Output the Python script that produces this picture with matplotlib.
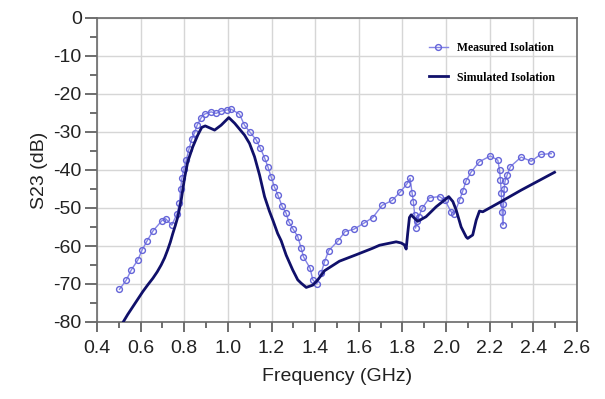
import matplotlib.pyplot as plt
from matplotlib.ticker import MultipleLocator

# measured isolation (GHz, dB)
meas_f = [0.503, 0.534, 0.557, 0.587, 0.607, 0.630, 0.657, 0.698, 0.714, 0.743,
          0.767, 0.778, 0.783, 0.789, 0.798, 0.809, 0.821, 0.834, 0.847, 0.859,
          0.878, 0.893, 0.923, 0.946, 0.969, 0.995, 1.015, 1.053, 1.076, 1.099,
          1.130, 1.149, 1.168, 1.183, 1.198, 1.213, 1.229, 1.249, 1.267, 1.279,
          1.297, 1.320, 1.336, 1.346, 1.377, 1.389, 1.407, 1.427, 1.443, 1.462,
          1.504, 1.537, 1.577, 1.626, 1.664, 1.707, 1.753, 1.791, 1.820, 1.835,
          1.844, 1.850, 1.856, 1.860, 1.866, 1.875, 1.890, 1.924, 1.970, 1.995,
          2.023, 2.038, 2.062, 2.077, 2.092, 2.115, 2.153, 2.203, 2.237, 2.245,
          2.249, 2.253, 2.257, 2.260, 2.263, 2.266, 2.270, 2.280, 2.295, 2.344,
          2.390, 2.433, 2.482]
meas_db = [-71.4, -69.0, -66.3, -63.7, -61.0, -58.6, -56.0, -53.3, -52.8, -54.5,
           -51.5, -48.6, -45.0, -42.2, -39.8, -37.4, -34.6, -31.9, -30.2, -28.2,
           -26.2, -25.3, -24.7, -25.1, -24.5, -24.2, -24.0, -25.3, -28.2, -29.9,
           -32.1, -34.3, -36.8, -39.1, -41.8, -44.4, -46.6, -49.6, -51.4, -53.6,
           -55.4, -57.5, -60.6, -62.8, -65.9, -68.9, -70.0, -67.2, -64.1, -61.2,
           -58.7, -56.2, -55.6, -53.9, -52.5, -49.3, -48.0, -45.7, -43.7, -42.2,
           -46.0, -48.3, -51.8, -55.3, -53.5, -52.3, -50.1, -47.3, -47.0, -48.0,
           -51.0, -51.5, -47.9, -45.4, -42.8, -40.5, -37.8, -36.3, -37.4, -40.0,
           -42.5, -46.0, -51.0, -54.5, -49.0, -45.0, -43.0, -41.3, -39.1, -36.6,
           -37.7, -35.9, -35.7]

# simulated isolation (GHz, dB)
sim_f = [0.518, 0.541, 0.564, 0.587, 0.610, 0.633, 0.656, 0.676, 0.694, 0.710,
         0.724, 0.736, 0.747, 0.759, 0.770, 0.786, 0.801, 0.816, 0.839, 0.862,
         0.880, 0.896, 0.912, 0.939, 0.969, 1.004, 1.031, 1.076, 1.099, 1.122,
         1.145, 1.168, 1.190, 1.206, 1.228, 1.244, 1.267, 1.297, 1.320, 1.336,
         1.359, 1.389, 1.412, 1.443, 1.511, 1.588, 1.663, 1.695, 1.771, 1.794,
         1.809, 1.817, 1.824, 1.832, 1.840, 1.855, 1.870, 1.908, 1.954, 1.993,
         2.012, 2.031, 2.046, 2.069, 2.092, 2.099, 2.122, 2.138, 2.153, 2.168,
         2.237, 2.344, 2.497]
sim_db = [-80.2, -78.0, -76.0, -74.0, -72.0, -70.2, -68.5, -66.8, -65.0, -63.1,
          -61.0, -59.0, -56.8, -54.6, -52.4, -47.9, -42.2, -37.8, -33.9, -30.8,
          -28.8, -28.4, -28.8, -29.5, -28.2, -26.2, -27.7, -30.8, -33.0, -36.5,
          -41.3, -47.0, -50.8, -53.2, -56.7, -58.6, -62.4, -66.3, -68.9, -69.8,
          -70.9, -70.3, -68.9, -66.5, -64.0, -62.3, -60.6, -59.8, -58.9, -59.2,
          -59.7, -60.8, -56.7, -52.5, -51.8, -52.7, -53.5, -52.3, -49.7, -47.9,
          -47.0, -48.3, -50.5, -55.0, -57.6, -58.0, -57.1, -53.2, -50.8, -51.0,
          -48.8, -45.3, -40.6]

plt.rcParams['font.family'] = ['Liberation Sans', 'DejaVu Sans']
plt.rcParams['axes.unicode_minus'] = False

fig = plt.figure(figsize=(6.05, 3.99), dpi=100)
ax = fig.add_axes([97 / 605, 1 - 322 / 399, 480 / 605, 304 / 399])

ax.plot(meas_f, meas_db, color='#8484e6', lw=1.0, marker='o', ms=4.2,
        mfc='none', mec='#6464d8', mew=1.0, label='Measured Isolation', zorder=3)
ax.plot(sim_f, sim_db, color='#10106a', lw=2.0, label='Simulated Isolation',
        solid_joinstyle='round', zorder=4)

ax.set_xlim(0.4, 2.6)
ax.set_ylim(-80, 0)
ax.xaxis.set_major_locator(MultipleLocator(0.2))
ax.xaxis.set_minor_locator(MultipleLocator(0.1))
ax.yaxis.set_major_locator(MultipleLocator(10))
ax.yaxis.set_minor_locator(MultipleLocator(5))
ax.set_xticklabels([f'{v:.1f}' for v in ax.get_xticks()])

ax.grid(True, which='major', color='#d6d6d6', lw=1.0)
ax.set_axisbelow(True)
for s in ax.spines.values():
    s.set_color('#6a6a6a')
    s.set_linewidth(1.2)
ax.tick_params(axis='both', which='both', direction='out', colors='#555555',
               labelcolor='#222222', labelsize=14)
ax.tick_params(axis='x', which='major', length=7, width=1.2, pad=6)
ax.tick_params(axis='x', which='minor', length=4.5, width=1.2)
ax.tick_params(axis='y', which='major', length=9, width=1.2, pad=2)
ax.tick_params(axis='y', which='minor', length=5, width=1.2)

ax.set_xlabel('Frequency (GHz)', fontsize=14, color='#222222', labelpad=8)
ax.set_ylabel('S23 (dB)', fontsize=14, color='#222222', labelpad=4)

leg = fig.legend(loc='upper left', bbox_to_anchor=(423 / 605, 1 - 36 / 399),
                 frameon=False, borderpad=0, handlelength=1.6, handletextpad=0.8,
                 labelspacing=1.5, numpoints=1,
                 prop={'family': ['Liberation Serif', 'DejaVu Serif'],
                       'weight': 'bold', 'size': 8.5})

fig.savefig('out.png', dpi=100)
